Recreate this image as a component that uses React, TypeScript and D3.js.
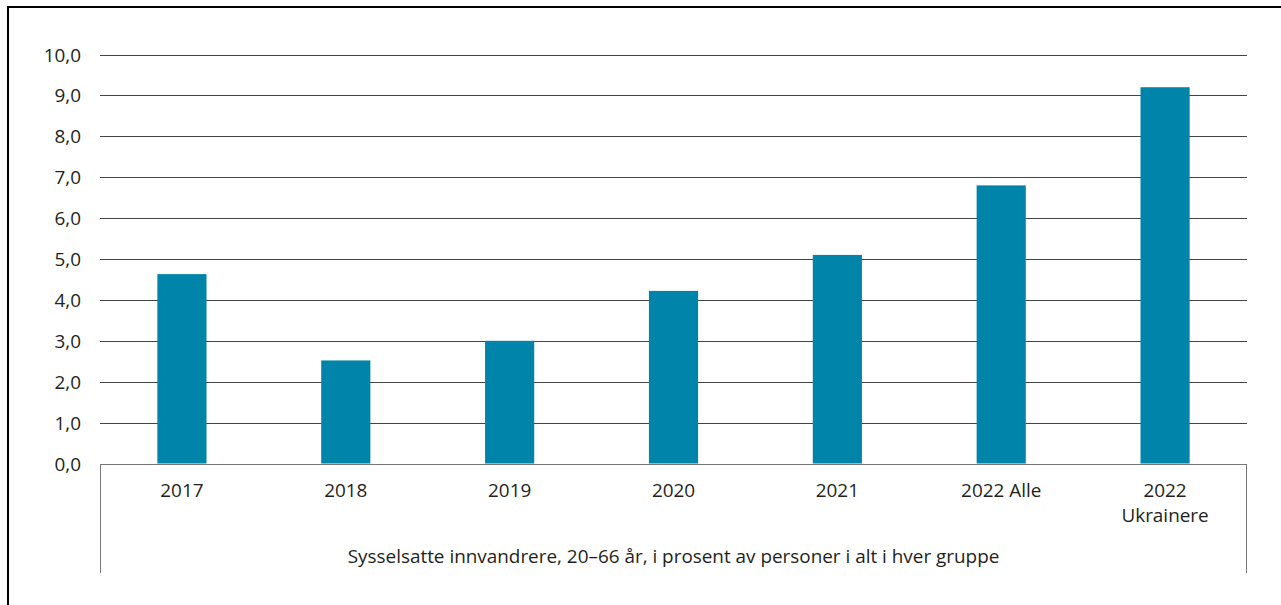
import React from "react";
import * as d3 from "d3";

const categories: string[][] = [
  ["2017"],
  ["2018"],
  ["2019"],
  ["2020"],
  ["2021"],
  ["2022 Alle"],
  ["2022", "Ukrainere"],
];
const values: number[] = [4.63, 2.52, 3.0, 4.22, 5.1, 6.8, 9.2];
const yTicks: number[] = [0, 1, 2, 3, 4, 5, 6, 7, 8, 9, 10];
const axisTitle = "Sysselsatte innvandrere, 20–66 år, i prosent av personer i alt i hver gruppe";

const W = 1281;
const H = 605;
const FONT = "'Open Sans', 'Noto Sans', sans-serif";
const FS = 18.9;

export default function App() {
  const left = 100;
  const right = 1247;
  const x = d3
    .scaleBand<number>()
    .domain(d3.range(categories.length))
    .range([left, right])
    .paddingInner(0.7)
    .paddingOuter(0.35);
  const y = d3.scaleLinear().domain([0, 10]).range([463.5, 54.5]);
  const fmt = (v: number) => d3.format(".1f")(v).replace(".", ",");
  const base = Math.round(y(0));

  return (
    <svg
      width={W}
      height={H}
      style={{ position: "absolute", left: 0, top: 0, display: "block" }}
      fontFamily={FONT}
    >
      <rect x={0} y={0} width={W} height={H} fill="#fff" />
      {/* frame */}
      <line x1={8} x2={8} y1={6} y2={H} stroke="#000" strokeWidth={2} />
      <line x1={7} x2={W} y1={7} y2={7} stroke="#000" strokeWidth={2} />

      {/* gridlines */}
      {yTicks.map((t) => {
        const yy = Math.round(y(t)) + 0.5;
        return (
          <g key={t}>
            {t > 0 && (
              <line x1={left} x2={right} y1={yy} y2={yy} stroke="#444" strokeWidth={1} />
            )}
            <text
              x={81}
              y={y(t)}
              textAnchor="end"
              dominantBaseline="central"
              fontSize={FS}
              fill="#231f20"
            >
              {fmt(t)}
            </text>
          </g>
        );
      })}

      {/* bars */}
      {values.map((v, i) => (
        <rect
          key={i}
          x={x(i)!}
          y={y(v)}
          width={x.bandwidth()}
          height={y(0) - y(v)}
          fill="#0084a9"
        />
      ))}

      {/* axis lines */}
      <line x1={left} x2={right} y1={base + 0.5} y2={base + 0.5} stroke="#777" strokeWidth={1} />
      <line x1={left + 0.5} x2={left + 0.5} y1={base} y2={573} stroke="#777" strokeWidth={1} />
      <line x1={right - 0.5} x2={right - 0.5} y1={base} y2={573} stroke="#777" strokeWidth={1} />

      {/* category labels */}
      {categories.map((lines, i) => (
        <text
          key={i}
          x={x(i)! + x.bandwidth() / 2}
          y={497}
          textAnchor="middle"
          fontSize={FS}
          fill="#231f20"
        >
          {lines.map((l, j) => (
            <tspan key={j} x={x(i)! + x.bandwidth() / 2} dy={j === 0 ? 0 : 25}>
              {l}
            </tspan>
          ))}
        </text>
      ))}

      <text x={(left + right) / 2} y={563} textAnchor="middle" fontSize={FS} fill="#231f20">
        {axisTitle}
      </text>
    </svg>
  );
}
